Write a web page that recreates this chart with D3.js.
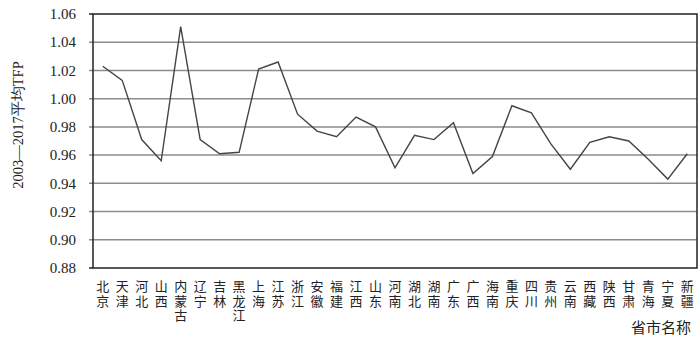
<!DOCTYPE html>
<html lang="zh">
<head>
    <meta charset="UTF-8">
    <script src="https://d3js.org/d3.v7.min.js"></script>
    <style>
        body { margin: 0; background: #fff; }
    </style>
</head>
<body>
    <svg width="700" height="341"></svg>

    <script>
        let provinces = ["北京", "天津", "河北", "山西", "内蒙古", "辽宁", "吉林", "黑龙江", "上海", "江苏",
                         "浙江", "安徽", "福建", "江西", "山东", "河南", "湖北", "湖南", "广东", "广西",
                         "海南", "重庆", "四川", "贵州", "云南", "西藏", "陕西", "甘肃", "青海", "宁夏", "新疆"];
        let tfp = [1.023, 1.013, 0.971, 0.956, 1.051, 0.971, 0.961, 0.962, 1.021, 1.026,
                   0.989, 0.977, 0.973, 0.987, 0.980, 0.951, 0.974, 0.971, 0.983, 0.947,
                   0.959, 0.995, 0.990, 0.968, 0.950, 0.969, 0.973, 0.970, 0.957, 0.943, 0.961];
        let yTicks = [0.88, 0.90, 0.92, 0.94, 0.96, 0.98, 1.00, 1.02, 1.04, 1.06];

        let svg = d3.select("svg");
        let plotLeft = 93, plotRight = 697, plotTop = 14, plotBottom = 268;

        let x = d3.scaleBand().domain(provinces).range([plotLeft, plotRight]);
        let y = d3.scaleLinear().domain([0.88, 1.06]).range([plotBottom, plotTop]);

        let serif = "'Liberation Serif', 'Times New Roman', serif";
        let cjk = "'Noto Sans CJK SC', sans-serif";

        // gridlines with short ticks to the left of the axis
        svg.append("g")
            .selectAll("line")
            .data(yTicks.slice(1, -1))
            .enter()
            .append("line")
            .attr("x1", plotLeft - 4)
            .attr("x2", plotRight)
            .attr("y1", d => y(d))
            .attr("y2", d => y(d))
            .attr("stroke", "#8c8c8c")
            .attr("stroke-width", 1.5);

        // frame
        svg.append("rect")
            .attr("x", plotLeft)
            .attr("y", plotTop)
            .attr("width", plotRight - plotLeft)
            .attr("height", plotBottom - plotTop)
            .attr("fill", "none")
            .attr("stroke", "#222")
            .attr("stroke-width", 1.5);

        svg.append("g")
            .selectAll("line")
            .data([0.88, 1.06])
            .enter()
            .append("line")
            .attr("x1", plotLeft - 4)
            .attr("x2", plotLeft)
            .attr("y1", d => y(d))
            .attr("y2", d => y(d))
            .attr("stroke", "#222")
            .attr("stroke-width", 1.5);

        // y tick labels
        svg.append("g")
            .selectAll("text")
            .data(yTicks)
            .enter()
            .append("text")
            .attr("x", plotLeft - 17)
            .attr("y", d => y(d))
            .attr("dy", "0.35em")
            .attr("text-anchor", "end")
            .attr("font-family", serif)
            .attr("font-size", 15)
            .attr("fill", "#222")
            .text(d => d.toFixed(2));

        // line
        let line = d3.line()
            .x((d, i) => x(provinces[i]) + x.bandwidth() / 2)
            .y(d => y(d));

        svg.append("path")
            .datum(tfp)
            .attr("d", line)
            .attr("fill", "none")
            .attr("stroke", "#444")
            .attr("stroke-width", 1.4);

        // category labels, one character per row, each its own text
        let chars = [];
        provinces.forEach(p => p.split("").forEach((c, i) => chars.push({ c: c, p: p, row: i })));

        svg.append("g")
            .selectAll("text")
            .data(chars)
            .enter()
            .append("text")
            .attr("x", d => x(d.p) + x.bandwidth() / 2)
            .attr("y", d => 291 + d.row * 14.5)
            .attr("font-family", cjk)
            .attr("font-size", 13)
            .attr("fill", "#222")
            .attr("text-anchor", "middle")
            .text(d => d.c);

        // axis titles
        svg.append("text")
            .attr("transform", "translate(23,125) rotate(-90)")
            .attr("text-anchor", "middle")
            .attr("font-family", serif)
            .attr("font-size", 14.5)
            .attr("fill", "#222")
            .text("2003—2017平均TFP");

        svg.append("text")
            .attr("x", 691)
            .attr("y", 333)
            .attr("text-anchor", "end")
            .attr("font-family", cjk)
            .attr("font-size", 15)
            .attr("fill", "#222")
            .text("省市名称");
    </script>
</body>
</html>
